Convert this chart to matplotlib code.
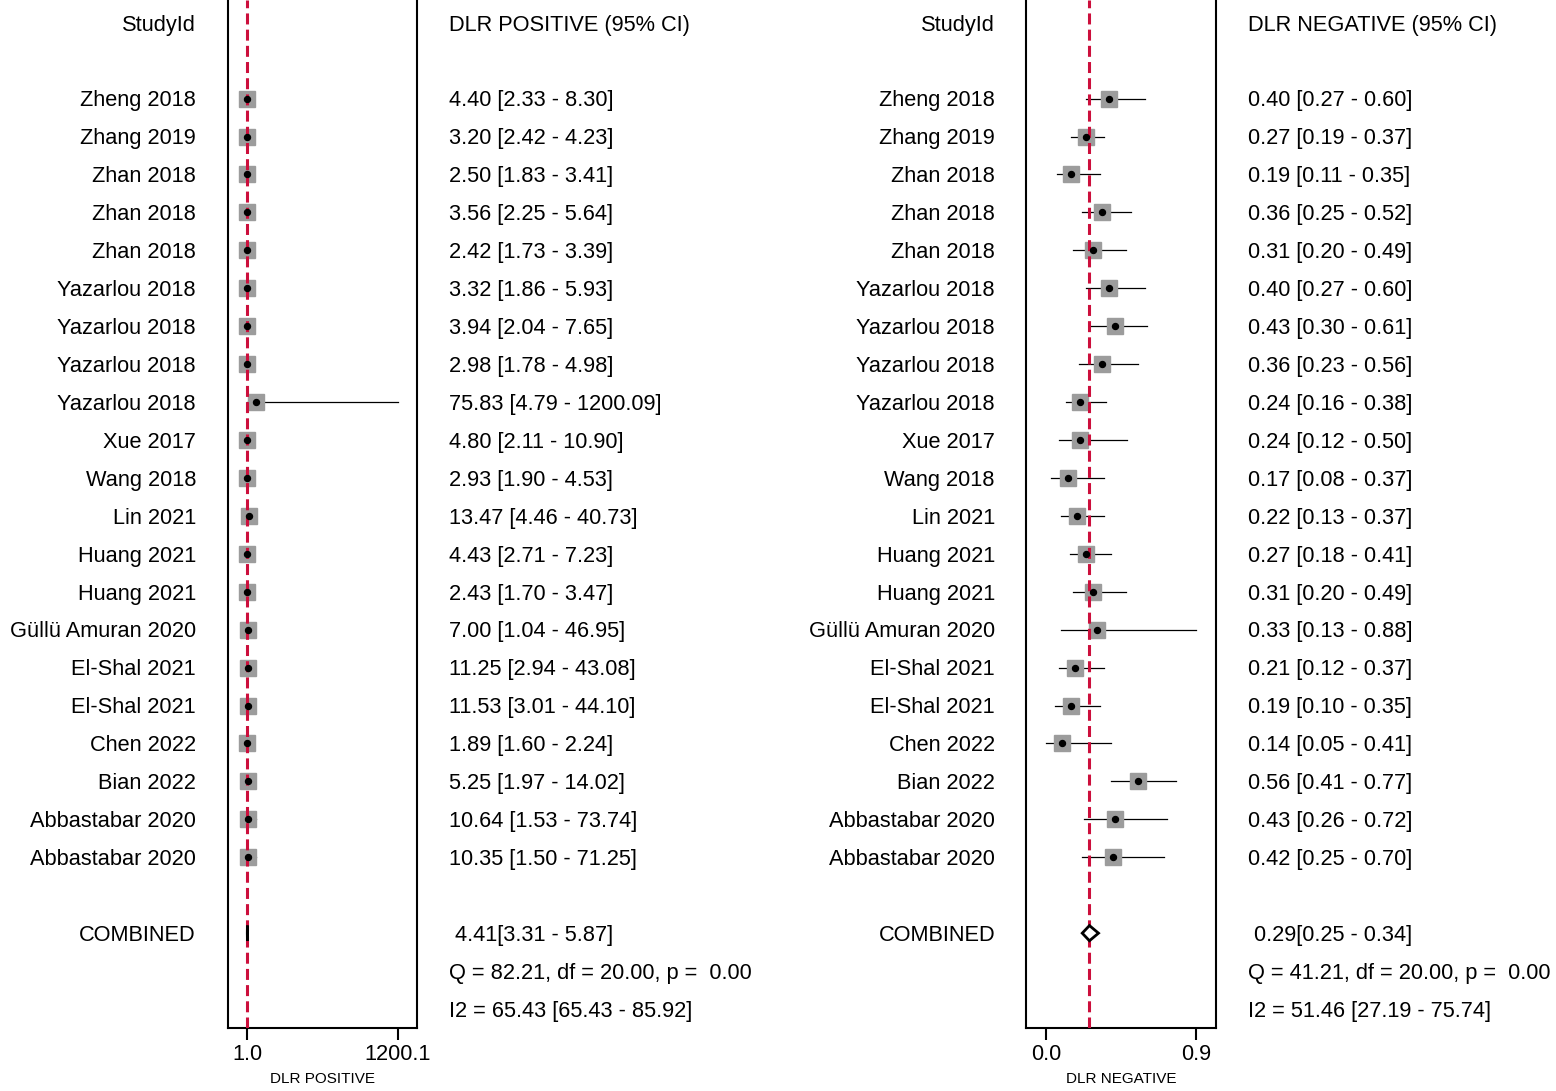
import matplotlib
matplotlib.use("Agg")
import matplotlib.pyplot as plt
from matplotlib.transforms import blended_transform_factory
from matplotlib.patches import Polygon

plt.rcParams['font.family'] = ['Liberation Sans', 'DejaVu Sans']

studies = ["Zheng 2018", "Zhang 2019", "Zhan 2018", "Zhan 2018", "Zhan 2018",
           "Yazarlou 2018", "Yazarlou 2018", "Yazarlou 2018", "Yazarlou 2018",
           "Xue 2017", "Wang 2018", "Lin 2021", "Huang 2021", "Huang 2021",
           "Güllü Amuran 2020", "El-Shal 2021", "El-Shal 2021", "Chen 2022",
           "Bian 2022", "Abbastabar 2020", "Abbastabar 2020"]

pos_est = [4.40, 3.20, 2.50, 3.56, 2.42, 3.32, 3.94, 2.98, 75.83, 4.80, 2.93,
           13.47, 4.43, 2.43, 7.00, 11.25, 11.53, 1.89, 5.25, 10.64, 10.35]
pos_lo = [2.33, 2.42, 1.83, 2.25, 1.73, 1.86, 2.04, 1.78, 4.79, 2.11, 1.90,
          4.46, 2.71, 1.70, 1.04, 2.94, 3.01, 1.60, 1.97, 1.53, 1.50]
pos_hi = [8.30, 4.23, 3.41, 5.64, 3.39, 5.93, 7.65, 4.98, 1200.09, 10.90, 4.53,
          40.73, 7.23, 3.47, 46.95, 43.08, 44.10, 2.24, 14.02, 73.74, 71.25]

neg_est = [0.40, 0.27, 0.19, 0.36, 0.31, 0.40, 0.43, 0.36, 0.24, 0.24, 0.17,
           0.22, 0.27, 0.31, 0.33, 0.21, 0.19, 0.14, 0.56, 0.43, 0.42]
neg_lo = [0.27, 0.19, 0.11, 0.25, 0.20, 0.27, 0.30, 0.23, 0.16, 0.12, 0.08,
          0.13, 0.18, 0.20, 0.13, 0.12, 0.10, 0.05, 0.41, 0.26, 0.25]
neg_hi = [0.60, 0.37, 0.35, 0.52, 0.49, 0.60, 0.61, 0.56, 0.38, 0.50, 0.37,
          0.37, 0.41, 0.49, 0.88, 0.37, 0.35, 0.41, 0.77, 0.72, 0.70]

pos_comb = [4.41, 3.31, 5.87]
neg_comb = [0.29, 0.25, 0.34]
pos_stats = ["Q = 82.21, df = 20.00, p =  0.00", "I2 = 65.43 [65.43 - 85.92]"]
neg_stats = ["Q = 41.21, df = 20.00, p =  0.00", "I2 = 51.46 [27.19 - 75.74]"]
pos_ticks = [1.04, 1200.09]
pos_ticklabels = ["1.0", "1200.1"]
neg_ticks = [0.05, 0.88]
neg_ticklabels = ["0.0", "0.9"]

W, H = 1556, 1091
fig = plt.figure(figsize=(W / 100, H / 100), dpi=100)
FS = 15.7
RED = '#cc0f3c'
GREY = '#9c9c9c'
DY = 0.06


def panel(ax_left_px, ax_right_px, est, lo, hi, comb, stats, ticks, ticklabels,
          label, header, lab_x, val_x, xlim):
    ax = fig.add_axes([ax_left_px / W, 1 - 1028 / H, (ax_right_px - ax_left_px) / W, 1028 / H])
    n = len(est)
    ys = [i + 2 for i in range(n)]
    for y, e, l, h in zip(ys, est, lo, hi):
        ax.plot([l, h], [y, y], color='black', lw=0.9, zorder=2)
    ax.plot(est, ys, ls='none', marker='s', ms=11.5, mfc=GREY, mec=GREY, zorder=3)
    ax.plot(est, ys, ls='none', marker='o', ms=4.3, mfc='black', mec='black', zorder=4)
    ax.axvline(comb[0], color=RED, lw=2.2, ls=(0, (3.6, 1.7)), zorder=3.5)
    yc = n + 3
    dh = 0.2
    diamond = Polygon([[comb[1], yc], [comb[0], yc - dh], [comb[2], yc], [comb[0], yc + dh]],
                      closed=True, facecolor='white', edgecolor='black', lw=2.0, zorder=5)
    ax.add_patch(diamond)
    ax.set_ylim(n + 5.5, -0.6)
    ax.set_xlim(*xlim)
    ax.spines['top'].set_visible(False)
    for s in ['left', 'right', 'bottom']:
        ax.spines[s].set_linewidth(1.5)
    ax.set_yticks([])
    ax.set_xticks(ticks)
    ax.set_xticklabels(ticklabels, fontsize=FS)
    ax.tick_params(axis='x', length=8.4, width=1.5, pad=3)
    ax.set_xlabel(label, fontsize=11, labelpad=5)

    tr = blended_transform_factory(fig.transFigure, ax.transData)
    kw = dict(transform=tr, va='center', fontsize=FS, clip_on=False)
    ax.text(lab_x / W, 0 + DY, "StudyId", ha='right', **kw)
    ax.text(val_x / W, 0 + DY, header, ha='left', **kw)
    for y, name, e, l, h in zip(ys, studies, est, lo, hi):
        ax.text(lab_x / W, y + DY, name, ha='right', **kw)
        ax.text(val_x / W, y + DY, f"{e:.2f} [{l:.2f} - {h:.2f}]", ha='left', **kw)
    ax.text(lab_x / W, yc + DY, "COMBINED", ha='right', **kw)
    ax.text(val_x / W, yc + DY, f" {comb[0]:.2f}[{comb[1]:.2f} - {comb[2]:.2f}]", ha='left', **kw)
    ax.text(val_x / W, yc + 1 + DY, stats[0], ha='left', **kw)
    ax.text(val_x / W, yc + 2 + DY, stats[1], ha='left', **kw)
    return ax


panel(228, 417, pos_est, pos_lo, pos_hi, pos_comb, pos_stats, pos_ticks, pos_ticklabels,
      "DLR POSITIVE", "DLR POSITIVE (95% CI)", 196, 449, (-150.0, 1351.0))
panel(1026, 1216, neg_est, neg_lo, neg_hi, neg_comb, neg_stats, neg_ticks, neg_ticklabels,
      "DLR NEGATIVE", "DLR NEGATIVE (95% CI)", 995, 1248, (-0.061, 0.99))

fig.savefig("out.png", dpi=100)
